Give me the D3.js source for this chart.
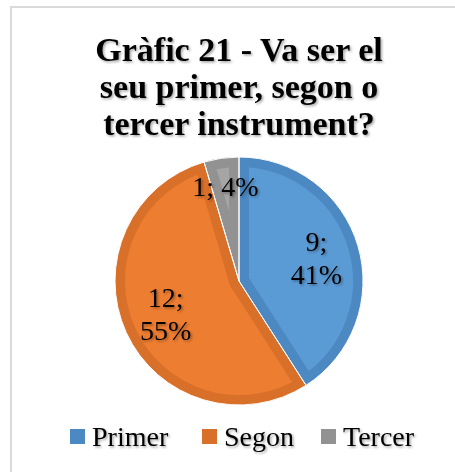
<!DOCTYPE html>
<html>
<head>
<meta charset="utf-8">
<script src="https://cdn.jsdelivr.net/npm/d3@7"></script>
<style>
  body { margin: 0; background: #fff; }
  text { font-family: "Liberation Serif", "Times New Roman", serif; }
</style>
</head>
<body>
<script>
// dades del gràfic
var categories = ["Primer", "Segon", "Tercer"];
var values = [9, 12, 1];
var percents = [41, 55, 4];
var titleLines = ["Gràfic 21 - Va ser el", "seu primer, segon o", "tercer instrument?"];

var fills = ["#5B9BD5", "#ED7D31", "#A5A5A5"];
var edges = ["#4C88C2", "#D9702A", "#929292"];

var w = 455, h = 472;
var cx = 239, cy = 281, r = 124;

var svg = d3.select("body").append("svg")
    .attr("width", w)
    .attr("height", h);

var defs = svg.append("defs");
var shadow = defs.append("filter").attr("id", "shadow")
    .attr("x", "-20%").attr("y", "-20%").attr("width", "140%").attr("height", "140%");
shadow.append("feDropShadow")
    .attr("dx", 1.5).attr("dy", 1.5).attr("stdDeviation", 1)
    .attr("flood-color", "#000").attr("flood-opacity", 0.35);

// marc
svg.append("rect")
    .attr("x", 11).attr("y", 7)
    .attr("width", w + 20).attr("height", h + 20)
    .attr("fill", "none")
    .attr("stroke", "#d9d9d9")
    .attr("stroke-width", 2);

// títol
svg.append("g").selectAll("text")
    .data(titleLines)
    .enter()
    .append("text")
    .attr("x", cx)
    .attr("y", function(d, i) { return 61 + i * 37; })
    .attr("text-anchor", "middle")
    .attr("font-size", 34)
    .attr("font-weight", "bold")
    .attr("filter", "url(#shadow)")
    .text(function(d) { return d; });

// pastís
var pie = d3.pie().sort(null).value(function(d) { return d; });
var arcs = pie(values);
var arc = d3.arc().innerRadius(0).outerRadius(r);

var g = svg.append("g").attr("transform", "translate(" + cx + "," + cy + ")");

arcs.forEach(function(d, i) {
  defs.append("clipPath").attr("id", "clip" + i)
    .append("path").attr("d", arc(d));
});

g.selectAll("path.slice")
    .data(arcs)
    .enter()
    .append("path")
    .attr("class", "slice")
    .attr("d", arc)
    .attr("fill", function(d, i) { return fills[i]; });

// vora interior més fosca
g.selectAll("path.edge")
    .data(arcs)
    .enter()
    .append("path")
    .attr("class", "edge")
    .attr("d", arc)
    .attr("fill", "none")
    .attr("stroke", function(d, i) { return edges[i]; })
    .attr("stroke-width", 20)
    .attr("stroke-linejoin", "round")
    .attr("clip-path", function(d, i) { return "url(#clip" + i + ")"; });

// separadors blancs
g.selectAll("path.sep")
    .data(arcs)
    .enter()
    .append("path")
    .attr("class", "sep")
    .attr("d", arc)
    .attr("fill", "none")
    .attr("stroke", "#fff")
    .attr("stroke-width", 1);

// etiquetes
var labelArc = d3.arc().innerRadius(r * 0.65).outerRadius(r * 0.65);
var smallArc = d3.arc().innerRadius(r * 0.77).outerRadius(r * 0.77);

g.selectAll("text.lbl")
    .data(arcs)
    .enter()
    .append("text")
    .attr("class", "lbl")
    .attr("text-anchor", "middle")
    .attr("font-size", 28)
    .attr("fill", "#000")
    .attr("filter", "url(#shadow)")
    .each(function(d, i) {
      var small = (d.endAngle - d.startAngle) < 0.5;
      var c = small ? smallArc.centroid(d) : labelArc.centroid(d);
      var t = d3.select(this);
      if (small) {
        t.append("tspan").attr("x", c[0]).attr("y", c[1] + 9)
          .text(values[i] + "; " + percents[i] + "%");
      } else {
        t.append("tspan").attr("x", c[0]).attr("y", c[1] - 7)
          .text(values[i] + ";");
        t.append("tspan").attr("x", c[0]).attr("y", c[1] + 26)
          .text(percents[i] + "%");
      }
    });

// llegenda
var legX = [70, 202, 321];
var leg = svg.append("g").selectAll("g")
    .data(categories)
    .enter()
    .append("g")
    .attr("transform", function(d, i) { return "translate(" + legX[i] + ",429)"; });

leg.append("rect")
    .attr("width", 15).attr("height", 15)
    .attr("fill", function(d, i) { return edges[i]; });

leg.append("text")
    .attr("x", 22).attr("y", 17)
    .attr("font-size", 28)
    .attr("filter", "url(#shadow)")
    .text(function(d) { return d; });
</script>
</body>
</html>
